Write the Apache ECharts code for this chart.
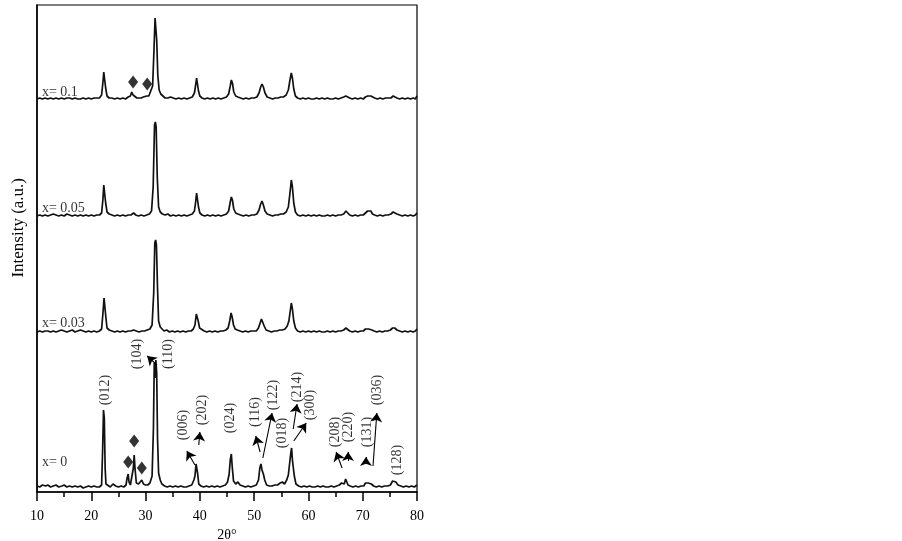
<!DOCTYPE html>
<html><head><meta charset="utf-8">
<script src="https://cdn.jsdelivr.net/npm/echarts@6/dist/echarts.min.js"></script>
<style>html,body{margin:0;padding:0;background:#fff}#c{width:902px;height:541px}</style>
</head><body><div id="c"></div>
<script>
// ---- data ----
const sampleNames = ['x= 0', 'x= 0.03', 'x= 0.05', 'x= 0.1'];
const offsets = [4, 159, 275, 392];
const labelPos = [[10.9, 30], [10.9, 169], [10.9, 284], [10.9, 400]];
const xTicks = [10, 20, 30, 40, 50, 60, 70, 80];

const trace0 = [[10,2],[10.5,1],[11,3],[11.6,2],[12,3],[12.5,1],[13,2],[13.5,3],[14,1],[14.6,2],[15,3],[15.5,1],[16,2],[16.5,1],[17,2],[17.5,1],[18,2],[18.5,0],[19,1],[19.5,2],[20,1],[20.5,2],[21,1],[21.5,1],[21.9,3],[22.1,40],[22.25,78],[22.4,70],[22.55,20],[22.7,4],[23,2],[23.5,1],[24,4],[24.5,2],[25,1],[25.5,2],[26,1],[26.4,3],[26.6,10],[26.8,14],[26.95,6],[27.2,3],[27.5,5],[27.75,20],[27.9,33],[28.05,20],[28.3,5],[28.7,4],[29,6],[29.3,8],[29.6,4],[30,3],[30.4,3],[30.8,5],[31.2,12],[31.45,60],[31.6,125],[31.75,110],[31.9,128],[32.05,115],[32.2,50],[32.4,15],[32.7,8],[33,4],[33.5,2],[34,1],[34.5,2],[35,1],[35.5,2],[36,1],[36.5,2],[37,1],[37.5,1],[38,2],[38.5,3],[38.9,8],[39.1,12],[39.3,24],[39.45,25],[39.6,14],[39.8,4],[40.2,2],[40.7,1],[41.2,2],[41.7,1],[42.2,2],[42.7,1],[43.2,2],[43.7,1],[44.2,2],[44.7,3],[45.1,6],[45.4,14],[45.6,28],[45.8,34],[45.95,22],[46.2,7],[46.6,4],[47,6],[47.4,3],[47.9,2],[48.4,1],[48.9,2],[49.4,1],[49.9,2],[50.4,3],[50.8,8],[51.05,20],[51.25,24],[51.45,18],[51.7,14],[51.95,8],[52.3,3],[52.8,2],[53.3,2],[53.8,3],[54.3,3],[54.8,5],[55.2,6],[55.6,4],[56,8],[56.3,13],[56.55,12],[56.75,35],[56.9,40],[57.05,28],[57.2,30],[57.4,12],[57.7,4],[58.2,2],[58.7,1],[59.2,2],[59.7,1],[60.2,2],[60.7,1],[61.2,1],[61.7,2],[62.2,1],[62.7,2],[63.2,1],[63.7,1],[64.2,2],[64.7,1],[65.2,2],[65.7,3],[66.1,5],[66.4,6],[66.6,4],[66.85,9],[67.05,8],[67.3,3],[67.7,2],[68.2,1],[68.7,2],[69.2,1],[69.7,2],[70.2,2],[70.5,5],[70.7,4],[71,5],[71.3,6],[71.6,4],[72,2],[72.5,1],[73,2],[73.5,1],[74,2],[74.6,2],[75.1,3],[75.5,7],[75.8,8],[76.1,6],[76.5,3],[77,2],[77.5,1],[78,2],[78.5,1],[79,2],[79.5,1],[80,3]];

const trace003 = [[10,1],[10.5,2],[11,1],[11.5,2],[12,2],[12.5,1],[13,2],[13.5,1],[14,2],[14.5,3],[15,2],[15.5,1],[16,2],[16.5,3],[17,1],[17.5,2],[18,3],[18.5,2],[19,1],[19.5,2],[20,1],[20.5,2],[21,1],[21.5,2],[21.9,4],[22.15,20],[22.35,35],[22.5,33],[22.7,15],[22.9,5],[23.3,3],[23.8,2],[24.3,1],[24.8,2],[25.3,1],[25.8,2],[26.3,1],[26.8,2],[27.3,2],[27.8,3],[28.3,2],[28.8,1],[29.3,2],[29.8,2],[30.3,3],[30.8,4],[31.2,8],[31.5,40],[31.7,90],[31.85,93],[32.0,88],[32.2,45],[32.4,12],[32.7,6],[33,4],[33.4,2],[33.9,3],[34.4,1],[34.9,2],[35.4,1],[35.9,2],[36.4,1],[36.9,2],[37.4,1],[37.9,2],[38.4,2],[38.8,4],[39.1,8],[39.35,19],[39.5,21],[39.7,12],[39.95,5],[40.3,3],[40.8,2],[41.3,1],[41.8,2],[42.3,1],[42.8,2],[43.3,1],[43.8,2],[44.3,2],[44.8,3],[45.2,5],[45.5,12],[45.75,20],[45.95,16],[46.2,8],[46.5,4],[46.9,3],[47.4,2],[47.9,1],[48.4,2],[48.9,1],[49.4,2],[49.9,2],[50.4,2],[50.8,5],[51.1,10],[51.35,14],[51.6,12],[51.85,7],[52.2,3],[52.7,2],[53.2,1],[53.7,2],[54.2,2],[54.7,3],[55.2,3],[55.7,4],[56.1,7],[56.4,12],[56.65,22],[56.85,30],[57.05,24],[57.3,12],[57.6,5],[58,2],[58.5,1],[59,2],[59.5,1],[60,2],[60.5,1],[61,2],[61.5,1],[62,2],[62.5,1],[63,1],[63.5,2],[64,1],[64.5,2],[65,1],[65.5,2],[66,2],[66.5,3],[66.9,5],[67.2,4],[67.6,2],[68.1,1],[68.6,2],[69.1,1],[69.6,2],[70.1,2],[70.5,4],[70.8,5],[71.1,4],[71.4,6],[71.7,3],[72.1,2],[72.6,1],[73.1,2],[73.6,1],[74.1,2],[74.6,2],[75.1,3],[75.5,5],[75.9,5],[76.3,3],[76.8,2],[77.3,1],[77.8,2],[78.3,1],[78.8,2],[79.3,1],[79.7,2],[80,4]];

const trace005 = [[10,1],[10.5,2],[11,1],[11.5,2],[12,1],[12.5,2],[13,3],[13.5,2],[14,1],[14.5,2],[15,1],[15.5,3],[16,2],[16.5,1],[17,2],[17.5,1],[18,2],[18.5,1],[19,2],[19.5,1],[20,2],[20.5,1],[21,2],[21.5,2],[21.9,4],[22.15,18],[22.3,32],[22.45,30],[22.65,14],[22.9,5],[23.3,3],[23.8,2],[24.3,1],[24.8,2],[25.3,1],[25.8,2],[26.3,1],[26.8,2],[27.3,2],[27.8,4],[28.2,2],[28.7,1],[29.2,2],[29.7,1],[30.2,2],[30.7,3],[31.1,6],[31.4,30],[31.65,92],[31.8,95],[31.95,90],[32.15,40],[32.4,10],[32.7,5],[33.1,3],[33.6,2],[34.1,3],[34.6,1],[35.1,2],[35.6,1],[36.1,2],[36.6,1],[37.1,2],[37.6,1],[38.1,2],[38.6,3],[39,6],[39.2,14],[39.4,24],[39.55,22],[39.75,10],[40,4],[40.4,2],[40.9,1],[41.4,2],[41.9,1],[42.4,2],[42.9,1],[43.4,2],[43.9,1],[44.4,2],[44.9,3],[45.3,6],[45.6,15],[45.8,20],[46,17],[46.25,8],[46.6,4],[47,3],[47.5,2],[48,1],[48.5,2],[49,1],[49.5,2],[50,2],[50.5,3],[50.9,7],[51.2,13],[51.45,16],[51.7,12],[52,6],[52.4,3],[52.9,2],[53.4,1],[53.9,2],[54.4,2],[54.9,3],[55.4,3],[55.9,5],[56.3,10],[56.6,24],[56.85,37],[57.05,30],[57.3,14],[57.6,5],[58,2],[58.5,1],[59,2],[59.5,1],[60,2],[60.5,1],[61,2],[61.5,1],[62,2],[62.5,1],[63,1],[63.5,2],[64,1],[64.5,2],[65,1],[65.5,2],[66,2],[66.5,3],[66.9,6],[67.2,5],[67.6,2],[68.1,1],[68.6,2],[69.1,1],[69.6,2],[70.1,2],[70.5,4],[70.9,6],[71.2,5],[71.5,6],[71.8,3],[72.2,2],[72.7,1],[73.2,2],[73.7,1],[74.2,2],[74.7,2],[75.2,3],[75.6,5],[75.9,5],[76.3,3],[76.8,2],[77.3,1],[77.8,2],[78.3,1],[78.8,2],[79.3,1],[79.7,2],[80,4]];

const trace01 = [[10,1],[10.5,2],[11,1],[11.5,2],[12,1],[12.5,2],[13,1],[13.5,2],[14,1],[14.5,2],[15,1],[15.5,2],[16,2],[16.5,1],[17,2],[17.5,1],[18,1],[18.5,2],[19,1],[19.5,2],[20,1],[20.5,2],[21,2],[21.5,2],[21.9,5],[22.15,18],[22.3,28],[22.45,26],[22.65,12],[22.9,4],[23.3,2],[23.8,2],[24.3,1],[24.8,2],[25.3,1],[25.8,2],[26.3,1],[26.8,3],[27.2,4],[27.45,8],[27.7,5],[28,4],[28.4,2],[28.8,2],[29.2,2],[29.6,3],[29.9,5],[30.2,4],[30.6,4],[30.9,6],[31.3,14],[31.55,50],[31.75,82],[31.9,80],[32.05,60],[32.25,25],[32.5,10],[32.8,6],[33.2,4],[33.6,2],[34.1,2],[34.6,3],[35.1,2],[35.6,1],[36.1,2],[36.6,1],[37.1,2],[37.6,1],[38.1,2],[38.6,3],[39,7],[39.2,14],[39.4,22],[39.55,20],[39.75,9],[40,4],[40.4,2],[40.9,1],[41.4,2],[41.9,1],[42.4,2],[42.9,1],[43.4,2],[43.9,1],[44.4,2],[44.9,3],[45.3,6],[45.6,14],[45.8,20],[46,17],[46.25,8],[46.6,4],[47,3],[47.5,2],[48,1],[48.5,2],[49,1],[49.5,2],[50,2],[50.5,3],[50.9,7],[51.2,13],[51.45,16],[51.7,13],[52,7],[52.4,3],[52.9,2],[53.4,1],[53.9,2],[54.4,2],[54.9,3],[55.4,3],[55.9,5],[56.3,10],[56.6,20],[56.85,27],[57.05,22],[57.3,11],[57.6,4],[58,2],[58.5,1],[59,2],[59.5,1],[60,2],[60.5,1],[61,1],[61.5,2],[62,1],[62.5,2],[63,1],[63.5,2],[64,1],[64.5,1],[65,2],[65.5,1],[66,2],[66.5,3],[66.9,4],[67.2,3],[67.6,2],[68.1,1],[68.6,2],[69.1,1],[69.6,2],[70.1,1],[70.5,3],[70.9,4],[71.2,3],[71.5,4],[71.8,2],[72.2,2],[72.7,1],[73.2,2],[73.7,1],[74.2,2],[74.7,2],[75.2,2],[75.6,4],[75.9,4],[76.3,2],[76.8,1],[77.3,2],[77.8,1],[78.3,2],[78.8,1],[79.3,2],[79.7,1],[80,4]];

const traces = [trace0, trace003, trace005, trace01];

// impurity markers (diamonds)
const diamonds = [[26.8, 30], [27.9, 51], [29.3, 24], [27.7, 410], [30.3, 408]];

// hkl labels (x=0 pattern)
const hklText = ['(012)','(104)','(110)','(006)','(202)','(024)','(116)','(122)','(018)','(214)','(300)','(208)','(220)','(131)','(036)','(128)'];
const hklPos = [[22.5,102],[28.4,138],[34.1,138],[36.9,67],[40.4,82],[45.55,74],[50.15,80],[53.5,97],[55.1,59],[57.9,105],[60.3,87],[64.9,60],[67.3,65],[70.8,60],[72.6,102],[76.3,32]];
// arrows: [from, to]
const arrows = [
  [[32.1,127],[30.3,136]],
  [[39.1,27],[37.6,41]],
  [[39.8,47],[40.0,60]],
  [[51.1,40],[50.3,56]],
  [[51.6,34],[53.3,79]],
  [[57.2,63],[57.9,88]],
  [[57.3,51],[59.6,69]],
  [[66.2,24],[65.1,40]],
  [[67.3,31],[67.3,40]],
  [[70.6,29],[70.6,35]],
  [[71.9,26],[72.6,79]]
];

// ---- chart ----
const FONT = 'Liberation Serif';
const chart = echarts.init(document.getElementById('c'), null, {renderer: 'canvas'});

const series = traces.map((t, i) => ({
  type: 'line',
  name: sampleNames[i],
  data: t.map(p => [p[0], p[1] + offsets[i]]),
  showSymbol: false,
  symbol: 'none',
  lineStyle: {color: '#111', width: 1.7},
  z: 3,
  markLine: i === 0 ? {
    silent: true,
    symbol: ['none', 'arrow'],
    symbolSize: 9,
    label: {show: false},
    lineStyle: {color: '#000', width: 1.1, type: 'solid'},
    data: arrows.map(a => [{coord: a[0]}, {coord: a[1]}]),
    animation: false
  } : undefined
}));

series.push({
  type: 'scatter',
  data: diamonds,
  symbol: 'diamond',
  symbolSize: [10, 13],
  itemStyle: {color: '#000'},
  z: 4
});

series.push({
  type: 'scatter',
  data: labelPos.map((p, i) => ({value: p, label: {formatter: sampleNames[i]}})),
  symbolSize: 0,
  label: {show: true, position: 'right', distance: 0, color: '#000', fontFamily: FONT, fontSize: 14},
  z: 5
});

series.push({
  type: 'scatter',
  data: hklPos.map((p, i) => ({value: p, label: {formatter: hklText[i]}})),
  symbolSize: 0,
  label: {show: true, position: 'inside', rotate: 90, color: '#000', fontFamily: FONT, fontSize: 14, align: 'center', verticalAlign: 'middle'},
  z: 5
});

chart.setOption({
  animation: false,
  backgroundColor: '#fff',
  grid: {left: 37, right: 485, top: 5, bottom: 49, containLabel: false, outerBoundsMode: 'none', show: true, borderColor: '#000', borderWidth: 1.2, backgroundColor: 'transparent'},
  xAxis: {
    type: 'value', min: xTicks[0], max: xTicks[xTicks.length - 1], interval: 10,
    name: '2θ°', nameLocation: 'middle', nameGap: 34,
    nameTextStyle: {color: '#000', fontFamily: FONT, fontSize: 14},
    axisLine: {show: true, lineStyle: {color: '#000', width: 1.5}},
    axisTick: {show: true, inside: false, length: 9, lineStyle: {color: '#000', width: 1.5}},
    minorTick: {show: true, splitNumber: 2, length: 5, lineStyle: {color: '#000', width: 1.5}},
    axisLabel: {color: '#000', fontFamily: FONT, fontSize: 14, margin: 17},
    splitLine: {show: false}
  },
  yAxis: {
    type: 'value', min: 0, max: 487,
    axisLine: {show: true, lineStyle: {color: '#000', width: 1.5}},
    axisTick: {show: false}, axisLabel: {show: false}, splitLine: {show: false}
  },
  graphic: [{
    type: 'text', left: 10, top: 178, rotation: Math.PI / 2,
    style: {text: 'Intensity (a.u.)', fill: '#000', font: '17px "' + FONT + '"'}
  }],
  series: series
});
</script>
</body></html>
